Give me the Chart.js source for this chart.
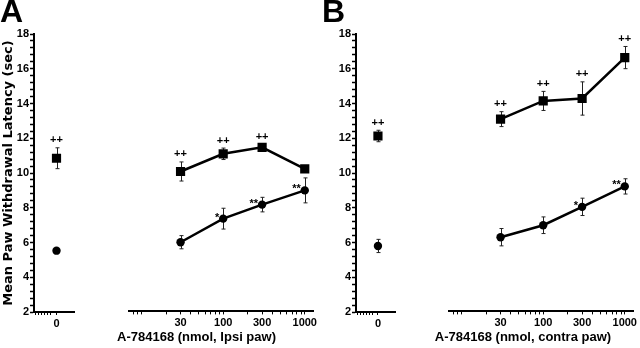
<!DOCTYPE html>
<html>
<head>
<meta charset="utf-8">
<script src="https://cdn.jsdelivr.net/npm/chart.js@4.4.1/dist/chart.umd.min.js"></script>
<style>
  body { margin: 0; background: #fff; }
  #wrap { position: relative; width: 640px; height: 348px; overflow: hidden; }
  .box { position: absolute; top: 0; height: 348px; }
  .letter { position: absolute; top: -7px; font: bold 32px "Liberation Sans", Arial, sans-serif; color: #000; }
</style>
</head>
<body>
<div id="wrap">
  <div class="box" style="left:0;width:81px"><canvas id="zeroA"></canvas></div>
  <div class="box" style="left:74px;width:246px"><canvas id="doseA"></canvas></div>
  <div class="box" style="left:320px;width:82px"><canvas id="zeroB"></canvas></div>
  <div class="box" style="left:407px;width:233px"><canvas id="doseB"></canvas></div>
  <div class="letter" style="left:0">A</div>
  <div class="letter" style="left:322px">B</div>
</div>
<script>
// x values and tick labels
const doses = [30, 100, 300, 1000];
const doseTicks = [8, 9, 10, 20, 30, 40, 50, 60, 70, 80, 90, 100, 200, 300, 400, 500, 600, 700, 800, 900, 1000];
const doseLabels = [30, 100, 300, 1000];
const zeroTicks = [-0.92, -0.8, -0.66, -0.52, -0.4, -0.26, 0];
const yLabels = [2, 4, 6, 8, 10, 12, 14, 16, 18];

// Panel A - ipsi paw
const ipsiSquareZero = [10.85];
const ipsiSquareZeroErr = [0.6];
const ipsiSquare = [10.07, 11.09, 11.46, 10.22];
const ipsiSquareErr = [0.55, 0.33, 0.17, 0.15];
const ipsiCircleZero = [5.53];
const ipsiCircleZeroErr = [0.1];
const ipsiCircle = [5.99, 7.35, 8.16, 8.98];
const ipsiCircleErr = [0.38, 0.6, 0.42, 0.72];
const ipsiSquareSig = ["++", "++", "++", ""];
const ipsiCircleSig = ["", "*", "**", "**"];

// Panel B - contra paw
const contraSquareZero = [12.13];
const contraSquareZeroErr = [0.33];
const contraSquare = [13.09, 14.14, 14.28, 16.64];
const contraSquareErr = [0.43, 0.55, 0.96, 0.64];
const contraCircleZero = [5.8];
const contraCircleZeroErr = [0.38];
const contraCircle = [6.28, 6.97, 8.03, 9.21];
const contraCircleErr = [0.5, 0.48, 0.5, 0.44];
const contraSquareSig = ["++", "++", "++", "++"];
const contraCircleSig = ["", "", "*", "**"];

const narrow = '"Liberation Sans Narrow", "Liberation Sans", Arial, sans-serif';
const tickFont = { family: narrow, size: 11, weight: "bold" };

// minor ticks on the y axis: 4 between each labelled value
const yTickValues = [];
yLabels.forEach((v, i) => {
  yTickValues.push(v);
  if (i < yLabels.length - 1) {
    for (let k = 1; k < 5; k++) yTickValues.push(v + (k * (yLabels[i + 1] - v)) / 5);
  }
});

// draw error bars behind the markers
const errorBars = {
  id: "errorBars",
  beforeDatasetsDraw(chart) {
    const { ctx } = chart;
    const x = chart.scales.x;
    const y = chart.scales.y;
    ctx.save();
    ctx.strokeStyle = "#222";
    ctx.lineWidth = 1;
    chart.data.datasets.forEach((ds) => {
      ds.data.forEach((p, i) => {
        const e = ds.errors[i];
        const px = Math.round(x.getPixelForValue(p.x)) + 0.5;
        const top = y.getPixelForValue(p.y + e);
        const bot = y.getPixelForValue(p.y - e);
        ctx.beginPath();
        ctx.moveTo(px, top);
        ctx.lineTo(px, bot);
        ctx.moveTo(px - 2, top);
        ctx.lineTo(px + 2, top);
        ctx.moveTo(px - 2, bot);
        ctx.lineTo(px + 2, bot);
        ctx.stroke();
      });
    });
    ctx.restore();
  },
};

// significance marks (++, *, **)
const sigMarks = {
  id: "sigMarks",
  afterDatasetsDraw(chart) {
    const { ctx } = chart;
    const x = chart.scales.x;
    const y = chart.scales.y;
    ctx.save();
    ctx.fillStyle = "#000";
    ctx.font = "bold 11px " + narrow;
    chart.data.datasets.forEach((ds) => {
      if (!ds.marks) return;
      ds.data.forEach((p, i) => {
        const txt = ds.marks[i];
        if (!txt) return;
        const px = x.getPixelForValue(p.x);
        if (ds.markPos === "above") {
          ctx.textAlign = "center";
          ctx.textBaseline = "middle";
          ctx.fillText(txt, px, y.getPixelForValue(p.y + ds.errors[i]) - 7.5);
        } else {
          ctx.textAlign = "right";
          ctx.textBaseline = "alphabetic";
          ctx.fillText(txt, px - 4, y.getPixelForValue(p.y) + 2);
        }
      });
    });
    ctx.restore();
  },
};

function yScale(show, width, title) {
  return {
    type: "linear",
    min: 2,
    max: 18,
    afterBuildTicks: (s) => {
      s.ticks = yTickValues.map((v) => ({ value: v }));
    },
    ticks: {
      display: show,
      autoSkip: false,
      padding: 1,
      color: "#000",
      font: tickFont,
      callback: (v) => (yLabels.includes(v) ? String(v) : ""),
    },
    grid: { display: show, drawOnChartArea: false, tickLength: 4, tickColor: "#000", tickWidth: 1.5 },
    border: { display: show, color: "#000", width: 2 },
    title: {
      display: !!title,
      text: title || "",
      color: "#000",
      font: { family: "DejaVu Sans", size: 13, weight: "bold" },
      padding: { top: 1, bottom: 0 },
    },
    afterFit: (s) => {
      s.width = width;
    },
  };
}

function seriesSet(values, errs, doseList, style, marks, markPos, line) {
  return {
    data: doseList.map((d, i) => ({ x: d, y: values[i] })),
    errors: errs,
    marks: marks,
    markPos: markPos,
    showLine: line,
    borderColor: "#000",
    borderWidth: 2.5,
    pointStyle: style,
    pointRadius: style === "rect" ? 6.5 : 4.2,
    pointBackgroundColor: "#000",
    pointBorderWidth: 0,
  };
}

function zeroChart(id, yWidth, yTitle, sqVal, sqErr, ciVal, ciErr) {
  return new Chart(document.getElementById(id), {
    type: "line",
    data: {
      datasets: [
        seriesSet(sqVal, sqErr, [0], "rect", ["++"], "above", false),
        seriesSet(ciVal, ciErr, [0], "circle", null, "left", false),
      ],
    },
    options: {
      responsive: true,
      maintainAspectRatio: false,
      animation: false,
      layout: { padding: { top: 34, right: 2, bottom: 0, left: 0 } },
      plugins: { legend: { display: false }, tooltip: { enabled: false } },
      scales: {
        x: {
          type: "linear",
          min: -1,
          max: 0.8,
          afterBuildTicks: (s) => {
            s.ticks = zeroTicks.map((v) => ({ value: v }));
          },
          ticks: {
            autoSkip: false,
            maxRotation: 0,
            padding: 2,
            color: "#000",
            font: tickFont,
            callback: (v) => (v === 0 ? "0" : ""),
          },
          grid: { drawOnChartArea: false, tickLength: 3, tickColor: "#000" },
          border: { color: "#000", width: 2 },
          afterFit: (s) => {
            s.height = 36;
          },
        },
        y: yScale(true, yWidth, yTitle),
      },
    },
    plugins: [errorBars, sigMarks],
  });
}

function doseChart(id, yWidth, xTitle, sqVal, sqErr, sqSig, ciVal, ciErr, ciSig) {
  return new Chart(document.getElementById(id), {
    type: "line",
    data: {
      datasets: [
        seriesSet(sqVal, sqErr, doses, "rect", sqSig, "above", true),
        seriesSet(ciVal, ciErr, doses, "circle", ciSig, "left", true),
      ],
    },
    options: {
      responsive: true,
      maintainAspectRatio: false,
      animation: false,
      layout: { padding: { top: 34, right: 1, bottom: 0, left: 0 } },
      plugins: {
        legend: { display: false },
        tooltip: { enabled: false },
        title: {
          display: true,
          position: "bottom",
          text: xTitle,
          color: "#000",
          font: { family: narrow, size: 13, weight: "bold" },
          padding: { top: 0, bottom: 3 },
        },
      },
      scales: {
        x: {
          type: "logarithmic",
          min: 7,
          max: 1280,
          afterBuildTicks: (s) => {
            s.ticks = doseTicks.map((v) => ({ value: v }));
          },
          ticks: {
            autoSkip: false,
            maxRotation: 0,
            padding: 2,
            color: "#000",
            font: tickFont,
            callback: (v) => (doseLabels.includes(v) ? String(v) : ""),
          },
          grid: { drawOnChartArea: false, tickLength: 3, tickColor: "#000" },
          border: { color: "#000", width: 2 },
          afterFit: (s) => {
            s.height = 18;
          },
        },
        y: yScale(false, yWidth, null),
      },
    },
    plugins: [errorBars, sigMarks],
  });
}

zeroChart("zeroA", 34, "Mean Paw Withdrawal Latency (sec)", ipsiSquareZero, ipsiSquareZeroErr, ipsiCircleZero, ipsiCircleZeroErr);
doseChart("doseA", 55, "A-784168 (nmol, Ipsi paw)", ipsiSquare, ipsiSquareErr, ipsiSquareSig, ipsiCircle, ipsiCircleErr, ipsiCircleSig);
zeroChart("zeroB", 36, null, contraSquareZero, contraSquareZeroErr, contraCircleZero, contraCircleZeroErr);
doseChart("doseB", 42, "A-784168 (nmol, contra paw)", contraSquare, contraSquareErr, contraSquareSig, contraCircle, contraCircleErr, contraCircleSig);
</script>
</body>
</html>
